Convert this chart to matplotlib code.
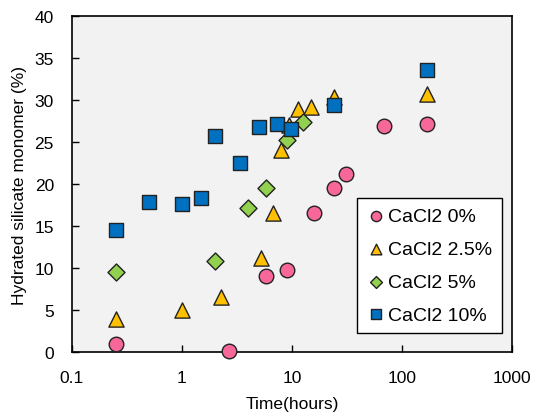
import numpy as np
import matplotlib.pyplot as plt

plt.rcParams['font.family'] = ['Liberation Sans', 'DejaVu Sans']

# CaCl2 0%
t0 = [0.25, 2.7, 5.8, 9.1, 15.8, 24, 31, 69, 168]
y0 = [1.0, 0.1, 9.1, 9.8, 16.6, 19.5, 21.2, 26.9, 27.2]
# CaCl2 2.5%
t25 = [0.25, 1.0, 2.27, 5.2, 6.8, 8.0, 9.4, 11.4, 14.8, 24, 168]
y25 = [4.0, 5.0, 6.6, 11.2, 16.6, 24.1, 27.0, 28.9, 29.2, 30.3, 30.7]
# CaCl2 5%
t5 = [0.25, 2.0, 3.95, 5.8, 9.1, 12.5]
y5 = [9.5, 10.9, 17.2, 19.5, 25.2, 27.4]
# CaCl2 10%
t10 = [0.25, 0.5, 1.0, 1.5, 2.0, 3.4, 5.0, 7.4, 9.8, 24, 168]
y10 = [14.5, 17.9, 17.6, 18.3, 25.7, 22.5, 26.8, 27.1, 26.6, 29.4, 33.6]

series = [
    (t0, y0, 'o', '#F7679A', 'CaCl2 0%', 110),
    (t25, y25, '^', '#FFC000', 'CaCl2 2.5%', 120),
    (t5, y5, 'D', '#92D050', 'CaCl2 5%', 75),
    (t10, y10, 's', '#0070C0', 'CaCl2 10%', 95),
]

fig = plt.figure(figsize=(5.37, 4.14), dpi=100)
ax = fig.add_axes([0.134, 0.147, 0.819, 0.812])
ax.set_facecolor('#f2f2f2')

for t, y, m, c, lab, s in series:
    ax.scatter(t, y, marker=m, s=s, color=c, edgecolors='#222222',
               linewidths=1.0, label=lab, zorder=3, clip_on=False)

ax.set_xscale('log')
ax.set_xlim(0.1, 1000)
ax.set_ylim(0, 40)
ax.set_yticks(range(0, 41, 5))
ax.set_xticks([0.1, 1, 10, 100, 1000])
ax.set_xticklabels(['0.1', '1', '10', '100', '1000'])
ax.minorticks_off()
ax.tick_params(direction='in', length=5, width=1, labelsize=12.5, pad=13)
for sp in ax.spines.values():
    sp.set_linewidth(1.2)

ax.set_xlabel('Time(hours)', fontsize=12.5, labelpad=8)
ax.set_ylabel('Hydrated silicate monomer (%)', fontsize=12.5, labelpad=5)

leg = ax.legend(loc='lower right', bbox_to_anchor=(0.977, 0.056), fontsize=14,
                frameon=True, fancybox=False, edgecolor='black',
                framealpha=1, labelspacing=0.78, handletextpad=0.1,
                markerscale=0.7, borderpad=0.5, handlelength=1.0,
                borderaxespad=0)
leg.get_frame().set_linewidth(1.0)

fig.savefig('out.png', dpi=100)
